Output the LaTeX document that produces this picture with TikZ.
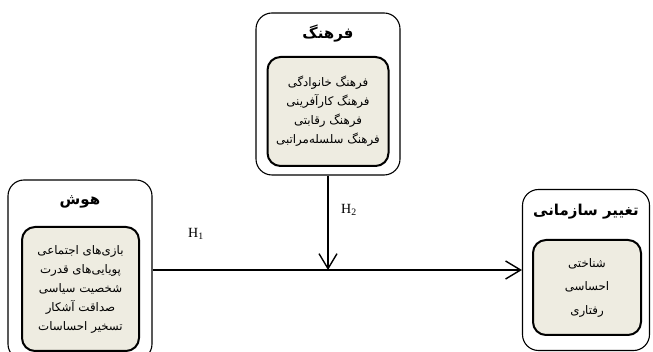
\documentclass[tikz,border=0pt]{standalone}
\usepackage{fontspec}
\setmainfont{Liberation Serif}
\newfontfamily\farsifont[Script=Arabic]{DejaVu Sans}
\TeXXeTstate=1
\usetikzlibrary{calc, positioning, arrows.meta}
\definecolor{boxfill}{HTML}{EEECE1}
\tikzset{>={Straight Barb[length=15pt,width=18pt]}}
\tikzset{
  outerbox/.style={draw, rounded corners=16pt, line width=1.1pt},
  innerbox/.style={draw, fill=boxfill, rounded corners=13pt, line width=2pt,
    align=center, font=\farsifont\fontsize{11.8}{19}\selectfont},
  boxtitle/.style={font=\farsifont\bfseries\fontsize{15}{16}\selectfont},
  link/.style={line width=1.4pt}
}
\newcommand{\rtltext}[1]{\beginR #1\endR}

\begin{document}
\begin{tikzpicture}[x=1pt,y=-1pt]
\useasboundingbox (0,0) rectangle (653,352);
% farhang (top)
\node[outerbox, minimum width=144pt, minimum height=162pt] (farhang) at (328,94) {};
\node[boxtitle] (farhangT) at (328,34) {\rtltext{فرهنگ}};
\node[innerbox, minimum width=121pt, minimum height=109pt] (farhangI) at (328,111.5)
  {\rtltext{فرهنگ خانوادگی}\\ \rtltext{فرهنگ کارآفرینی}\\ \rtltext{فرهنگ رقابتی}\\ \rtltext{فرهنگ سلسله‌مراتبی}};
% hosh (left)
\node[outerbox, minimum width=144pt, minimum height=180pt] (hosh) at (80,270) {};
\node[boxtitle] (hoshT) at (80,202) {\rtltext{هوش}};
\node[innerbox, minimum width=117pt, minimum height=124pt] (hoshI) at (80.5,289)
  {\rtltext{بازی‌های اجتماعی}\\ \rtltext{پویایی‌های قدرت}\\ \rtltext{شخصیت سیاسی}\\ \rtltext{صداقت آشکار}\\ \rtltext{تسخیر احساسات}};
% taghir (right)
\node[outerbox, minimum width=127pt, minimum height=161pt] (taghir) at (586,270) {};
\node[boxtitle] (taghirT) at (586,212) {\rtltext{تغییر سازمانی}};
\node[innerbox, minimum width=108pt, minimum height=95pt,
  font=\farsifont\fontsize{11.8}{23.5}\selectfont] (taghirI) at (587,287.5)
  {\rtltext{شناختی}\\ \rtltext{احساسی}\\ \rtltext{رفتاری}};
% links
\draw[link,->] (hosh.east) -- (taghir.west);
\draw[link,->] (farhang.south) -- (farhang.south |- hosh.east);
\node (h1) at (196,234) {\fontsize{14}{15}\selectfont H\textsubscript{1}};
\node (h2) at (349,210) {\fontsize{14}{15}\selectfont H\textsubscript{2}};
\end{tikzpicture}
\end{document}
